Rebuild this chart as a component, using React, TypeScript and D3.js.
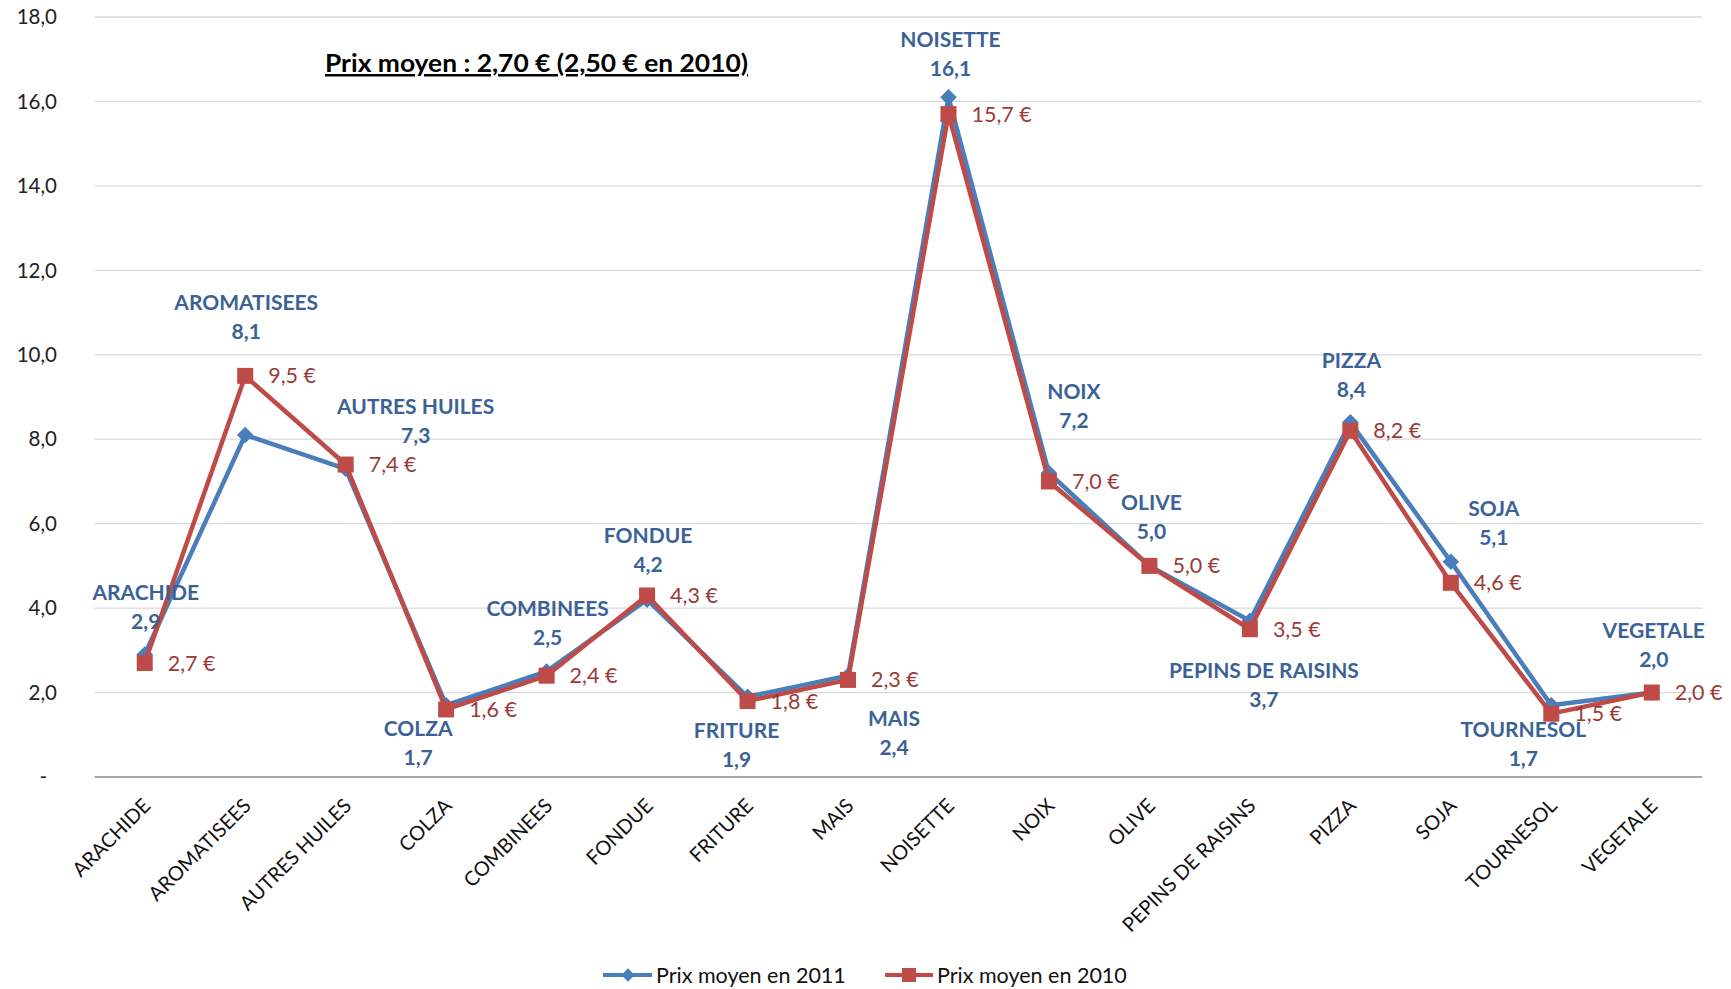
import React from "react";
import * as d3 from "d3";

const categories = [
  "ARACHIDE", "AROMATISEES", "AUTRES HUILES", "COLZA", "COMBINEES", "FONDUE",
  "FRITURE", "MAIS", "NOISETTE", "NOIX", "OLIVE", "PEPINS DE RAISINS",
  "PIZZA", "SOJA", "TOURNESOL", "VEGETALE",
];
const prix2011 = [2.9, 8.1, 7.3, 1.7, 2.5, 4.2, 1.9, 2.4, 16.1, 7.2, 5.0, 3.7, 8.4, 5.1, 1.7, 2.0];
const prix2010 = [2.7, 9.5, 7.4, 1.6, 2.4, 4.3, 1.8, 2.3, 15.7, 7.0, 5.0, 3.5, 8.2, 4.6, 1.5, 2.0];
const yTicks = [0, 2, 4, 6, 8, 10, 12, 14, 16, 18];
const seriesNames = ["Prix moyen en 2011", "Prix moyen en 2010"];
const titleText = "Prix moyen : 2,70 € (2,50 € en 2010)";

// label placement (pixel offsets of the name line from the 2011 point)
const blueLabelOffsets: [number, number][] = [
  [1, -62], [1, -132], [70, -62], [-28, 23], [1, -63], [1, -64],
  [-11, 34], [46, 43], [2, -58], [25, -81], [2, -63], [14, 50],
  [1, -62], [43, -53], [-28, 24], [2, -62],
];

const W = 1731;
const H = 989;
const BLUE = "#4A7EBB";
const RED = "#BE4B48";
const BLUE_TXT = "#3B6297";
const RED_TXT = "#9B3B38";
const FONT = "Lato, 'Open Sans', sans-serif";

const fmt = (v: number) => v.toFixed(1).replace(".", ",");

export default function App() {
  const x = d3.scaleBand<string>().domain(categories).range([94.5, 1702]);
  const cx = (c: string) => (x(c) as number) + x.bandwidth() / 2;
  const y = d3.scaleLinear().domain([0, 18]).range([777, 17]);

  const line = d3
    .line<number>()
    .x((_, i) => cx(categories[i]))
    .y((v) => y(v));

  const diamond = d3.symbol().type(d3.symbolDiamond2).size(175)();
  const sq = 16;

  return (
    <div>
      <style>{`body{margin:0}`}</style>
      <svg width={W} height={H} style={{ display: "block", background: "#fff" }} fontFamily={FONT}>
        {/* grid */}
        {yTicks.map((t) => (
          <g key={t}>
            <line
              x1={94.5}
              x2={1702}
              y1={y(t)}
              y2={y(t)}
              stroke={t === 0 ? "#8C8C8C" : "#D9D9D9"}
              strokeWidth={t === 0 ? 1.5 : 1.3}
            />
            <text
              x={t === 0 ? 47 : 57}
              y={y(t)}
              dy="0.35em"
              textAnchor="end"
              fontSize={20.5}
              fill="#222"
            >
              {t === 0 ? "-" : fmt(t)}
            </text>
          </g>
        ))}

        {/* category labels */}
        {categories.map((c) => (
          <text
            key={c}
            transform={`translate(${cx(c) + 7},${807}) rotate(-45)`}
            textAnchor="end"
            fontSize={20}
            fill="#111"
          >
            {c}
          </text>
        ))}

        {/* title */}
        <text
          x={325}
          y={72}
          fontSize={25}
          fontWeight="bold"
          fill="#000"
          textDecoration="underline"
          textLength={423}
          lengthAdjust="spacingAndGlyphs"
        >
          {titleText}
        </text>

        {/* series 2011 */}
        <path d={line(prix2011) || ""} fill="none" stroke={BLUE} strokeWidth={4.5} strokeLinejoin="round" />
        {prix2011.map((v, i) => (
          <path key={i} d={diamond || ""} transform={`translate(${cx(categories[i])},${y(v)})`} fill={BLUE} />
        ))}

        {/* series 2010 */}
        <path d={line(prix2010) || ""} fill="none" stroke={RED} strokeWidth={4.5} strokeLinejoin="round" />
        {prix2010.map((v, i) => (
          <rect
            key={i}
            x={cx(categories[i]) - sq / 2}
            y={y(v) - sq / 2}
            width={sq}
            height={sq}
            fill={RED}
          />
        ))}

        {/* 2010 labels */}
        {prix2010.map((v, i) => (
          <text
            key={i}
            x={cx(categories[i]) + 23}
            y={y(v)}
            dy="0.35em"
            fontSize={21.5}
            fill={RED_TXT}
          >
            {fmt(v) + " €"}
          </text>
        ))}

        {/* 2011 labels */}
        {prix2011.map((v, i) => {
          const [dx, dy] = blueLabelOffsets[i];
          const px = cx(categories[i]) + dx;
          const py = y(v) + dy;
          return (
            <g key={i} fontWeight="bold" fontSize={21} fill={BLUE_TXT} textAnchor="middle">
              <text x={px} y={py} dy="0.35em">{categories[i]}</text>
              <text x={px} y={py + 29} dy="0.35em">{fmt(v)}</text>
            </g>
          );
        })}

        {/* legend */}
        <g>
          <line x1={603} x2={652} y1={975} y2={975} stroke={BLUE} strokeWidth={4} />
          <path d={diamond || ""} transform="translate(628,975) scale(0.8)" fill={BLUE} />
          <text x={656} y={975} dy="0.35em" fontSize={21.5} fill="#111">{seriesNames[0]}</text>
          <line x1={885} x2={933} y1={975} y2={975} stroke={RED} strokeWidth={4} />
          <rect x={909 - 7} y={975 - 7} width={14} height={14} fill={RED} />
          <text x={937} y={975} dy="0.35em" fontSize={21.5} fill="#111">{seriesNames[1]}</text>
        </g>
      </svg>
    </div>
  );
}
